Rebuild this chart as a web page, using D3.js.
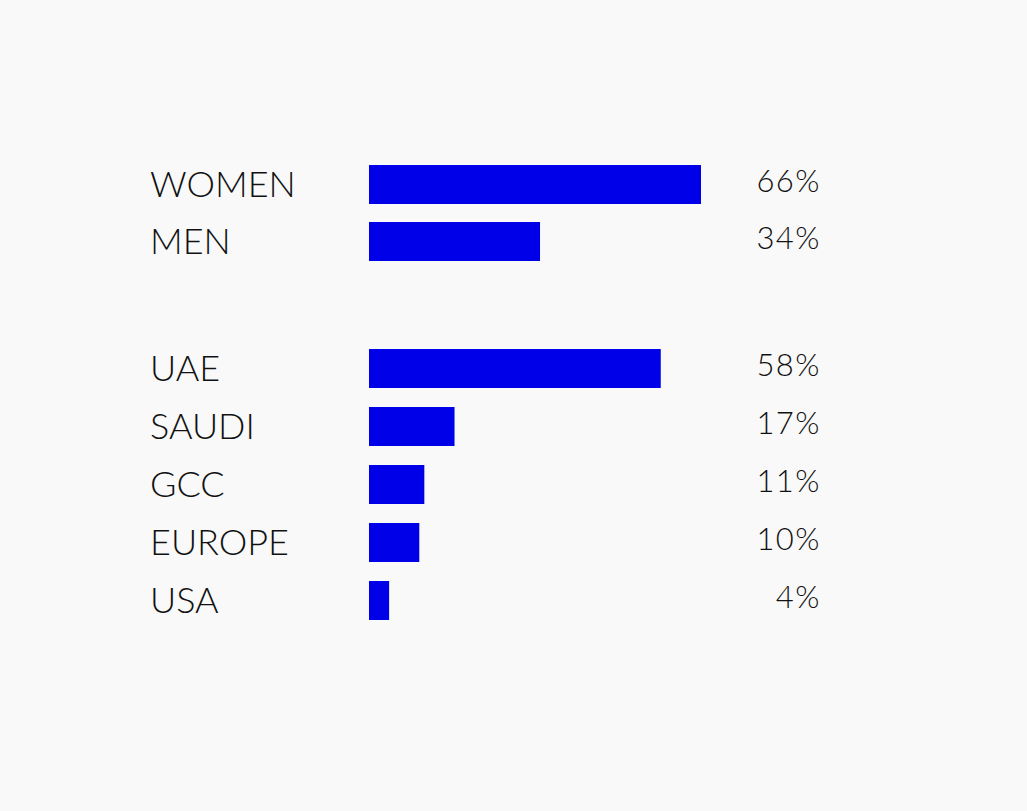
<!DOCTYPE html>
<html>
<head>
<meta charset="utf-8">
<script src="https://cdn.jsdelivr.net/npm/d3@7"></script>
<style>
  html, body { margin: 0; padding: 0; background: #f9f9fa; }
  svg { display: block; }
  .label { font-family: Lato, "Open Sans", sans-serif; font-weight: 300; font-size: 36px; fill: #111; }
  .pct { font-family: Lato, "Open Sans", sans-serif; font-weight: 300; font-size: 31px; letter-spacing: 1.5px; fill: #111; }
</style>
</head>
<body>
<svg id="chart" width="1027" height="811"></svg>
<script>
// gender split
var genderCats = ["WOMEN", "MEN"];
var genderVals = [66, 34];

// origin split
var originCats = ["UAE", "SAUDI", "GCC", "EUROPE", "USA"];
var originVals = [58, 17, 11, 10, 4];

var svg = d3.select("#chart");

svg.append("rect").attr("width", 1027).attr("height", 811).attr("fill", "#f9f9fa");

var barX = 369, pctRight = 821, labelX = 150;

var x = d3.scaleLinear()
    .domain([0, 66])
    .range([0, 332]);

function drawGroup(cats, vals, top, step) {
  var y = d3.scaleBand()
      .domain(cats)
      .range([top, top + step * cats.length])
      .paddingInner(0.32)
      .paddingOuter(0.16)
      .align(0);

  var data = cats.map(function(c, i) { return {name: c, value: vals[i]}; });
  var g = svg.append("g");

  var row = g.selectAll(".row")
    .data(data)
    .enter().append("g")
      .attr("class", "row");

  row.append("rect")
      .attr("x", barX)
      .attr("y", function(d) { return y(d.name); })
      .attr("width", function(d) { return x(d.value); })
      .attr("height", 39)
      .attr("fill", "#0000e8");

  row.append("text")
      .attr("class", "label")
      .attr("x", labelX)
      .attr("y", function(d) { return y(d.name) + 32; })
      .text(function(d) { return d.name; });

  row.append("text")
      .attr("class", "pct")
      .attr("x", pctRight)
      .attr("y", function(d) { return y(d.name) + 27; })
      .attr("text-anchor", "end")
      .text(function(d) { return d.value + "%"; });
}

drawGroup(genderCats, genderVals, 165, 57);
drawGroup(originCats, originVals, 349, 58);
</script>
</body>
</html>
